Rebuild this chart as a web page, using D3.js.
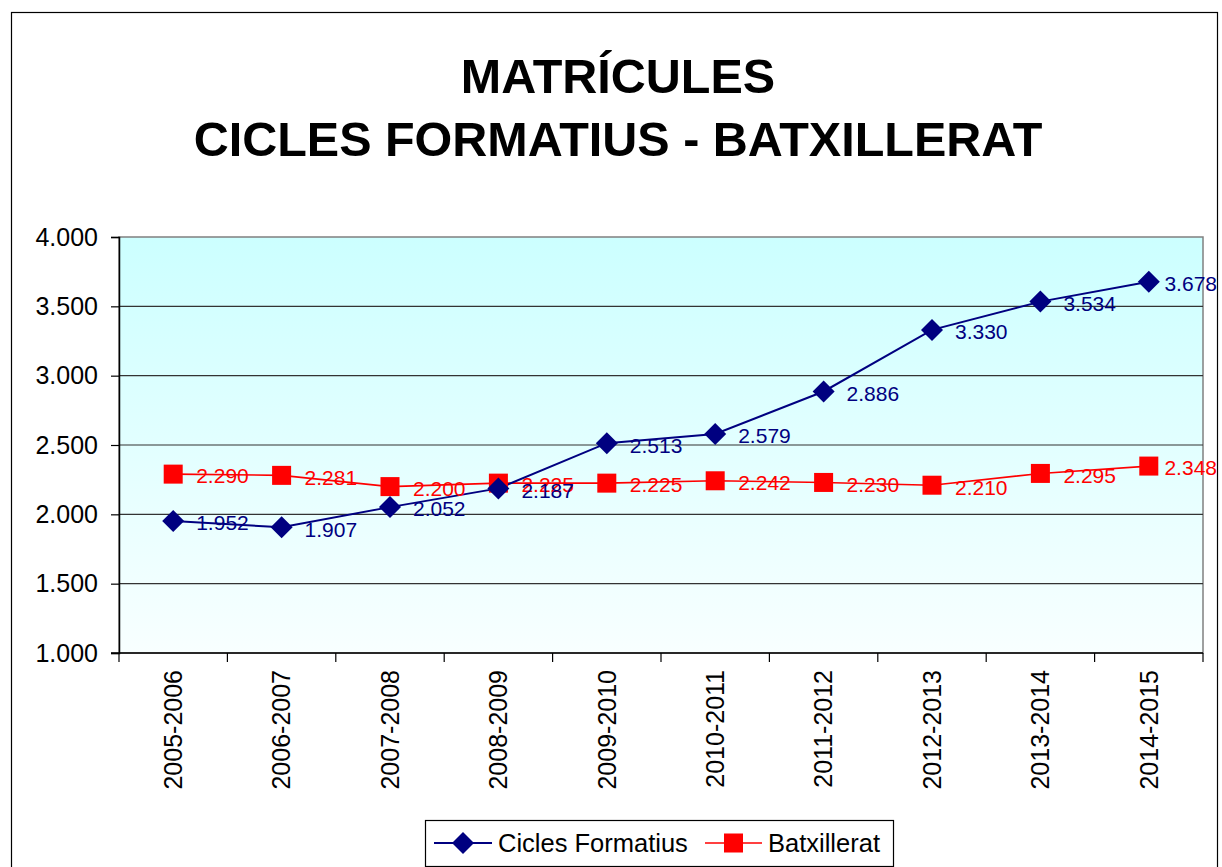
<!DOCTYPE html>
<html><head><meta charset="utf-8">
<script src="https://cdn.jsdelivr.net/npm/d3@7"></script>
<style>body{margin:0;background:#fff}svg{display:block;font-family:"Liberation Sans",Arial,sans-serif}</style>
</head><body>
<script>
const categories = ["2005-2006","2006-2007","2007-2008","2008-2009","2009-2010","2010-2011","2011-2012","2012-2013","2013-2014","2014-2015"];
const ciclesFormatius = [1952,1907,2052,2187,2513,2579,2886,3330,3534,3678];
const batxillerat = [2290,2281,2200,2225,2225,2242,2230,2210,2295,2348];
const yTicks = [1000,1500,2000,2500,3000,3500,4000];
const titleLines = ["MATRÍCULES","CICLES FORMATIUS - BATXILLERAT"];
const seriesNames = ["Cicles Formatius","Batxillerat"];

const W=1222,H=867;
const loc = d3.formatLocale({decimal:",",thousands:".",grouping:[3],currency:["","€"]});
const fmt = loc.format(",d");

const svg = d3.select("body").append("svg").attr("width",W).attr("height",H);
const defs = svg.append("defs");
const grad = defs.append("linearGradient").attr("id","bg").attr("x1",0).attr("y1",0).attr("x2",0).attr("y2",1);
grad.append("stop").attr("offset","0%").attr("stop-color","#ccffff");
grad.append("stop").attr("offset","100%").attr("stop-color","#f8ffff");

svg.append("rect").attr("x",11.5).attr("y",12.5).attr("width",1206).attr("height",880)
  .attr("fill","#fff").attr("stroke","#000").attr("stroke-width",1.2);

svg.selectAll("text.title").data(titleLines).join("text").attr("class","title")
  .attr("x",618).attr("y",(d,i)=>93+i*63).attr("text-anchor","middle")
  .attr("font-size",48.5).attr("font-weight","bold").text(d=>d);

const L=119,R=1203,T=237,B=653;
const x = d3.scaleBand().domain(categories).range([L,R]);
const y = d3.scaleLinear().domain([1000,4000]).range([B,T]);

svg.append("rect").attr("x",L).attr("y",T).attr("width",R-L).attr("height",B-T)
  .attr("fill","url(#bg)").attr("stroke","#808080").attr("stroke-width",1.5);

// gridlines
svg.append("g").selectAll("line").data(yTicks.filter(v=>v>1000&&v<4000)).join("line")
  .attr("x1",L).attr("x2",R).attr("y1",d=>y(d)).attr("y2",d=>y(d))
  .attr("stroke","#333").attr("stroke-width",1.2);

// y axis
const yAxis = svg.append("g").attr("transform",`translate(${L},0)`)
  .call(d3.axisLeft(y).tickValues(yTicks).tickFormat(fmt).tickSize(8).tickPadding(13));
yAxis.select(".domain").attr("stroke","#000").attr("stroke-width",1.5);
yAxis.selectAll(".tick line").attr("stroke","#000").attr("stroke-width",1.2);
yAxis.selectAll("text").attr("font-size",25).attr("fill","#000").attr("font-family","Liberation Sans, Arial, sans-serif");

// x axis
const xAxis = svg.append("g").attr("transform",`translate(0,${B})`)
  .call(d3.axisBottom(x).tickSize(0).tickSizeOuter(0));
xAxis.select(".domain").remove();
xAxis.append("line").attr("x1",L-8).attr("x2",R).attr("y1",0).attr("y2",0).attr("stroke","#000").attr("stroke-width",1.5);
const bounds = categories.map(c=>x(c)).concat([R]);
xAxis.selectAll("line.bt").data(bounds).join("line").attr("class","bt")
  .attr("x1",d=>d).attr("x2",d=>d).attr("y1",0).attr("y2",9).attr("stroke","#000").attr("stroke-width",1.2);
xAxis.selectAll(".tick text").attr("font-size",25).attr("fill","#000")
  .attr("font-family","Liberation Sans, Arial, sans-serif")
  .attr("transform","rotate(-90)").attr("text-anchor","end")
  .attr("x",-17).attr("y",0).attr("dy","0.35em");

const cx = c => x(c)+x.bandwidth()/2;
const series = [
  {name:seriesNames[0], values:ciclesFormatius, color:"#000080", sw:2, shape:"diamond"},
  {name:seriesNames[1], values:batxillerat, color:"#ff0000", sw:1.6, shape:"square"}
];
const line = d3.line().x((d,i)=>cx(categories[i])).y(d=>y(d));
function marker(g, shape, color){
  if(shape==="diamond") g.append("path").attr("d","M0,-11L11,0L0,11L-11,0Z").attr("fill",color);
  else g.append("rect").attr("x",-9.5).attr("y",-9.5).attr("width",19).attr("height",19).attr("fill",color);
}
[series[1],series[0]].forEach(s=>{
  svg.append("path").datum(s.values).attr("d",line).attr("fill","none").attr("stroke",s.color).attr("stroke-width",s.sw);
});
[series[1],series[0]].forEach(s=>{
  s.values.forEach((v,i)=>{
    const g = svg.append("g").attr("transform",`translate(${cx(categories[i])},${y(v)})`);
    marker(g,s.shape,s.color);
  });
});
[series[1],series[0]].forEach(s=>{
  svg.append("g").selectAll("text").data(s.values).join("text")
    .attr("y",d=>y(d)+2).attr("dy","0.35em")
    .attr("font-size",21).attr("fill",s.color).text(d=>fmt(d))
    .each(function(d,i){
      const w = this.getComputedTextLength();
      const px = Math.min(cx(categories[i])+23, 1217 - w);
      d3.select(this).attr("x",px);
    });
});

// legend
const lg = svg.append("g");
lg.append("rect").attr("x",425.5).attr("y",820.5).attr("width",468).attr("height",46)
  .attr("fill","#fff").attr("stroke","#000").attr("stroke-width",1.2);
const legItems = [{s:series[0],x0:434,x1:492,tx:498},{s:series[1],x0:705,x1:762,tx:768}];
legItems.forEach(it=>{
  lg.append("line").attr("x1",it.x0).attr("x2",it.x1).attr("y1",843).attr("y2",843).attr("stroke",it.s.color).attr("stroke-width",it.s.sw);
  const g = lg.append("g").attr("transform",`translate(${(it.x0+it.x1)/2},843)`);
  marker(g,it.s.shape,it.s.color);
  lg.append("text").attr("x",it.tx).attr("y",843).attr("dy","0.35em").attr("font-size",25.5).attr("fill","#000").text(it.s.name);
});
</script>
</body></html>
